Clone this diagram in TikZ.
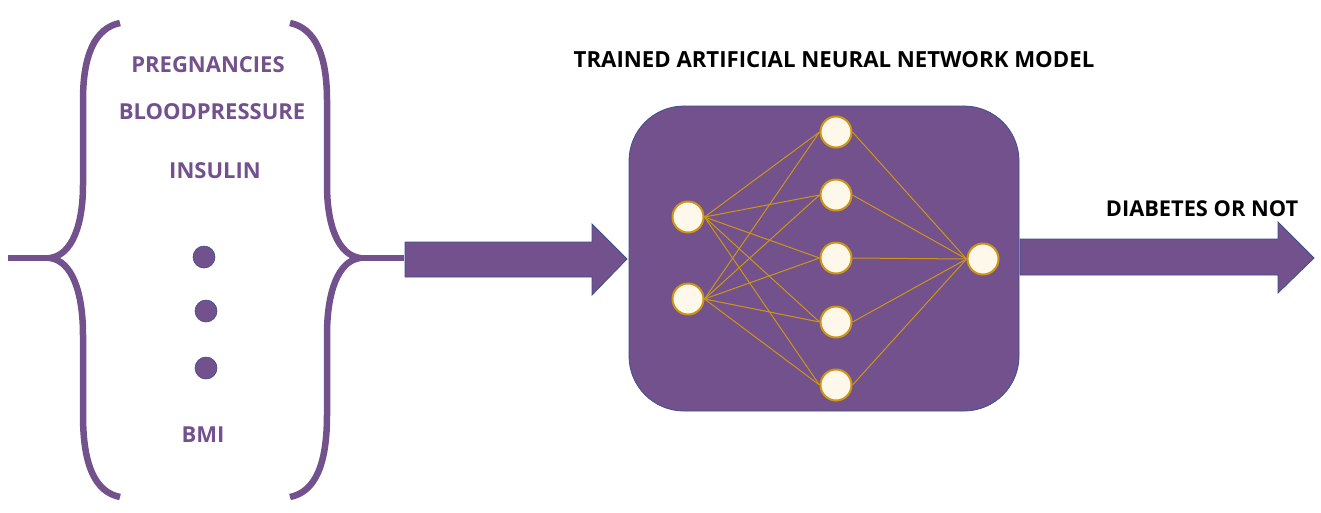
\documentclass[tikz,border=0pt]{standalone}
\usepackage{fontspec}
\setmainfont{Open Sans}
\definecolor{purp}{RGB}{114,81,140}
\definecolor{edgeblue}{RGB}{60,80,140}
\definecolor{gold}{RGB}{204,150,20}
\definecolor{cream}{RGB}{253,248,233}
\begin{document}
\begin{tikzpicture}[x=1pt,y=-1pt,
  lbl/.style={font=\fontsize{22}{26}\selectfont\bfseries, text=purp, inner sep=0pt},
  ttl/.style={font=\fontsize{22.2}{26}\selectfont\bfseries, text=black, inner sep=0pt},
  brace/.style={draw=purp, line width=6.5pt},
  dotn/.style={circle, fill=purp, draw=edgeblue, line width=0.6pt, minimum size=22pt, inner sep=0pt},
  neuron/.style={circle, fill=cream, draw=gold, line width=2pt, minimum size=31pt, inner sep=0pt},
  link/.style={draw=gold, line width=1pt},
  blockarrow/.style={fill=purp, draw=edgeblue, line width=0.8pt}]
\useasboundingbox (0,0) rectangle (1321,512);
% braces
\draw[brace] (120,23) .. controls (95,28) and (83,55) .. (83,100) -- (83,185)
  .. controls (83,225) and (72,255) .. (50,258)
  .. controls (72,261) and (83,292) .. (83,335) -- (83,415)
  .. controls (83,465) and (95,492) .. (120,497);
\draw[brace] (8,258) -- (50,258);
\draw[brace] (290,23) .. controls (315,28) and (327,55) .. (327,100) -- (327,185)
  .. controls (327,225) and (338,255) .. (360,258)
  .. controls (338,261) and (327,292) .. (327,335) -- (327,415)
  .. controls (327,465) and (315,492) .. (290,497);
\draw[brace] (360,258) -- (404,258);
% labels
\node[lbl] (preg) at (208,65) {PREGNANCIES};
\node[lbl] (bp) at (212,112) {BLOODPRESSURE};
\node[lbl] (ins) at (215,171) {INSULIN};
\node[lbl] (bmi) at (203,435) {BMI};
\node[dotn] (d1) at (204,257) {};
\node[dotn] (d2) at (206,311) {};
\node[dotn] (d3) at (206,368) {};
% arrow 1
\path[blockarrow] (405,242) -- (592,242) -- (592,224) -- (627,259) -- (592,295) -- (592,277) -- (405,277) -- cycle;
% model box
\node[ttl] (title) at (834,60) {TRAINED ARTIFICIAL NEURAL NETWORK MODEL};
\path[blockarrow, rounded corners=55pt] (629,106) rectangle (1019,411);
% arrow 2
\path[blockarrow] (1020,239) -- (1278,239) -- (1278,222) -- (1314,258) -- (1278,293) -- (1278,275) -- (1020,275) -- cycle;
\node[ttl, font=\fontsize{21.8}{26}\selectfont\bfseries] (out) at (1202,209) {DIABETES OR NOT};
% neurons
\node[neuron] (i1) at (688,217) {};
\node[neuron] (i2) at (688,299) {};
\node[neuron] (h1) at (836,132) {};
\node[neuron] (h2) at (836,195) {};
\node[neuron] (h3) at (836,258) {};
\node[neuron] (h4) at (836,322) {};
\node[neuron] (h5) at (836,385) {};
\node[neuron] (o) at (983,259) {};
\foreach \i in {i1,i2}{
  \foreach \h in {h1,h2,h3,h4,h5}{
    \draw[link] (\i.east) -- (\h.west);
  }
}
\foreach \h in {h1,h2,h3,h4,h5}{
  \draw[link] (\h.east) -- (o.west);
}
\end{tikzpicture}
\end{document}
